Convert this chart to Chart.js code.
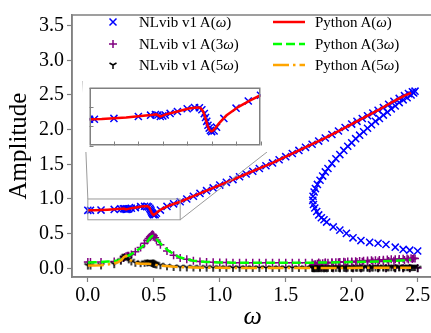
<!DOCTYPE html>
<html>
<head>
<meta charset="utf-8">
<script src="https://cdn.jsdelivr.net/npm/chart.js@4.4.1/dist/chart.umd.min.js"></script>
<style>
  body { margin: 0; overflow: hidden; background: #fff; }
  #wrap { position: relative; width: 440px; height: 333px; }
  #main { position: absolute; left: 0; top: 0; }
  #inset { position: absolute; left: 83px; top: 81px; background: #fff; }
  .leg { position: absolute; height: 20px; line-height: 20px; font-family: 'Liberation Serif', serif; font-size: 15px; color: #000; white-space: nowrap; }
  .leg svg { position: absolute; top: 0; }
</style>
</head>
<body>
<div id="wrap">
  <canvas id="main" width="440" height="333"></canvas>
  <canvas id="inset" width="184" height="71"></canvas>
  <div id="legend"></div>
</div>
<script>
// axis ticks
const xTicks = [0, 0.5, 1.0, 1.5, 2.0, 2.5];
const yTicks = [0, 0.5, 1.0, 1.5, 2.0, 2.5, 3.0, 3.5];
const insetXTicks = [0, 0.1, 0.2, 0.3, 0.4, 0.5, 0.6, 0.7];
const insetYTicks = [0.7, 0.8, 0.9, 1.0];
const zoomX = [0, 0.7];
const zoomY = [0.7, 1.0];

// NLvib v1 continuation (upper branch, fold, lower branch)
const omegaNL = [
  0.00, 0.02, 0.10, 0.20, 0.25, 0.27, 0.28, 0.29, 0.30, 0.31, 0.33, 0.36, 0.40, 0.43, 0.45, 0.46, 0.47, 0.475, 0.48, 0.485, 0.49, 0.495, 0.50, 0.51, 0.52, 0.55, 0.60, 0.65, 0.70,
  0.75, 0.80, 0.85, 0.90, 0.95, 1.00, 1.05, 1.10, 1.15, 1.20, 1.25, 1.30, 1.35, 1.40, 1.45, 1.50, 1.55, 1.60, 1.65, 1.70, 1.75, 1.80, 1.85, 1.90, 1.95, 2.00, 2.04, 2.08, 2.12, 2.16, 2.20, 2.24, 2.28, 2.32, 2.36, 2.40, 2.43, 2.46, 2.48,
  2.47, 2.45, 2.42, 2.39, 2.36, 2.33, 2.30, 2.27, 2.24, 2.21, 2.18, 2.15, 2.12, 2.09, 2.06, 2.03, 2.00, 1.97, 1.94, 1.91, 1.88, 1.85, 1.82, 1.80, 1.78, 1.76, 1.74, 1.725, 1.715, 1.707, 1.705,
  1.71, 1.72, 1.735, 1.75, 1.77, 1.79, 1.81, 1.86, 1.91, 1.96, 2.01, 2.07, 2.136, 2.20, 2.26, 2.33, 2.39, 2.44, 2.50
];
const ampNL1 = [
  0.836, 0.836, 0.840, 0.850, 0.857, 0.860, 0.858, 0.850, 0.853, 0.858, 0.866, 0.876, 0.890, 0.896, 0.895, 0.885, 0.865, 0.845, 0.825, 0.805, 0.790, 0.778, 0.772, 0.775, 0.795, 0.840, 0.893, 0.930, 0.960,
  1.00, 1.04, 1.08, 1.12, 1.16, 1.20, 1.24, 1.28, 1.32, 1.36, 1.40, 1.44, 1.48, 1.52, 1.565, 1.61, 1.655, 1.70, 1.745, 1.79, 1.835, 1.88, 1.93, 1.98, 2.03, 2.08, 2.12, 2.16, 2.20, 2.24, 2.28, 2.32, 2.365, 2.41, 2.45, 2.49, 2.52, 2.545, 2.555,
  2.53, 2.50, 2.46, 2.43, 2.39, 2.34, 2.30, 2.25, 2.21, 2.16, 2.12, 2.07, 2.02, 1.97, 1.92, 1.87, 1.81, 1.76, 1.70, 1.64, 1.58, 1.51, 1.44, 1.39, 1.33, 1.27, 1.21, 1.15, 1.10, 1.04, 0.98,
  0.92, 0.87, 0.82, 0.77, 0.73, 0.70, 0.667, 0.597, 0.551, 0.504, 0.44, 0.40, 0.375, 0.362, 0.343, 0.305, 0.273, 0.262, 0.25
];
const ampNL3 = [
  0.09, 0.09, 0.092, 0.10, 0.125, 0.15, 0.165, 0.175, 0.18, 0.18, 0.20, 0.24, 0.30, 0.36, 0.40, 0.43, 0.45, 0.46, 0.47, 0.48, 0.49, 0.48, 0.47, 0.44, 0.41, 0.34, 0.25, 0.19, 0.15,
  0.13, 0.11, 0.10, 0.09, 0.087, 0.085, 0.083, 0.082, 0.08, 0.08, 0.08, 0.08, 0.08, 0.08, 0.08, 0.08, 0.08, 0.08, 0.081, 0.082, 0.083, 0.084, 0.085, 0.087, 0.089, 0.09, 0.092, 0.094, 0.096, 0.098, 0.10, 0.103, 0.106, 0.11, 0.114, 0.12, 0.126, 0.133, 0.14,
  0.145, 0.145, 0.14, 0.138, 0.135, 0.132, 0.13, 0.127, 0.124, 0.121, 0.118, 0.115, 0.112, 0.109, 0.106, 0.103, 0.10, 0.097, 0.094, 0.091, 0.088, 0.085, 0.082, 0.079, 0.075, 0.071, 0.066, 0.06, 0.054, 0.048, 0.042,
  0.036, 0.031, 0.026, 0.022, 0.019, 0.016, 0.014, 0.011, 0.009, 0.008, 0.007, 0.006, 0.005, 0.005, 0.004, 0.004, 0.003, 0.003, 0.003
];
const ampNL5 = [
  0.04, 0.04, 0.042, 0.06, 0.11, 0.15, 0.17, 0.175, 0.16, 0.13, 0.10, 0.08, 0.075, 0.08, 0.085, 0.09, 0.09, 0.09, 0.085, 0.08, 0.075, 0.07, 0.065, 0.06, 0.055, 0.045, 0.03, 0.02, 0.015,
  0.013, 0.012, 0.011, 0.01, 0.009, 0.008, 0.008, 0.007, 0.007, 0.007, 0.006, 0.006, 0.006, 0.006, 0.006, 0.006, 0.006, 0.006, 0.006, 0.007, 0.007, 0.007, 0.008, 0.008, 0.008, 0.009, 0.009, 0.01, 0.01, 0.011, 0.011, 0.012, 0.013, 0.014, 0.015, 0.016, 0.017, 0.018, 0.019,
  0.019, 0.018, 0.017, 0.017, 0.016, 0.016, 0.015, 0.015, 0.014, 0.014, 0.013, 0.013, 0.012, 0.012, 0.011, 0.011, 0.01, 0.01, 0.009, 0.009, 0.008, 0.008, 0.007, 0.007, 0.006, 0.006, 0.005, 0.005, 0.004, 0.004, 0.003,
  0.003, 0.002, 0.002, 0.002, 0.002, 0.001, 0.001, 0.001, 0.001, 0.001, 0.001, 0.001, 0.001, 0.001, 0.001, 0.001, 0.001, 0.001, 0.001
];

// Python solver (upper branch only)
const omegaPy = [0, 0.05, 0.10, 0.15, 0.20, 0.23, 0.255, 0.274, 0.29, 0.312, 0.356, 0.407, 0.43, 0.445, 0.455, 0.464, 0.47, 0.477, 0.484, 0.49, 0.495, 0.499, 0.505, 0.515, 0.53, 0.56, 0.61, 0.66, 0.70,
  0.8, 0.9, 1.0, 1.1, 1.2, 1.3, 1.4, 1.5, 1.6, 1.7, 1.8, 1.9, 2.0, 2.1, 2.2, 2.3, 2.4, 2.45];
const ampPy1 = [0.836, 0.837, 0.841, 0.845, 0.851, 0.855, 0.858, 0.861, 0.849, 0.861, 0.875, 0.891, 0.895, 0.897, 0.893, 0.879, 0.86, 0.830, 0.80, 0.783, 0.776, 0.773, 0.777, 0.790, 0.815, 0.855, 0.90, 0.935, 0.96,
  1.04, 1.12, 1.20, 1.28, 1.36, 1.44, 1.52, 1.61, 1.70, 1.79, 1.88, 1.98, 2.08, 2.18, 2.28, 2.39, 2.49, 2.53];
const ampPy3 = [0.085, 0.087, 0.09, 0.097, 0.105, 0.115, 0.13, 0.16, 0.175, 0.185, 0.235, 0.305, 0.34, 0.37, 0.395, 0.42, 0.435, 0.45, 0.46, 0.465, 0.465, 0.46, 0.45, 0.435, 0.40, 0.34, 0.255, 0.195, 0.155,
  0.11, 0.092, 0.085, 0.082, 0.08, 0.08, 0.08, 0.08, 0.08, 0.082, 0.084, 0.087, 0.09, 0.094, 0.098, 0.105, 0.115, 0.125];
const ampPy5 = [0.04, 0.042, 0.045, 0.055, 0.07, 0.09, 0.12, 0.165, 0.18, 0.13, 0.075, 0.065, 0.065, 0.066, 0.066, 0.065, 0.064, 0.063, 0.062, 0.06, 0.058, 0.056, 0.053, 0.05, 0.045, 0.038, 0.03, 0.022, 0.018,
  0.012, 0.009, 0.007, 0.006, 0.005, 0.005, 0.005, 0.005, 0.005, 0.005, 0.006, 0.006, 0.006, 0.007, 0.007, 0.008, 0.008, 0.009];

const FONT = "'Liberation Serif', 'Times New Roman', serif";
const FRAME = '#808080';

function pts(xs, ys) {
  return xs.map((x, i) => ({ x: x, y: ys[i] }));
}

// matplotlib "1" marker (tri_down), drawn once into a small canvas
function triDown(color, r) {
  const c = document.createElement('canvas');
  c.width = c.height = 2 * r + 4;
  const g = c.getContext('2d');
  const m = r + 2;
  g.strokeStyle = color;
  g.lineWidth = 1.5;
  g.beginPath();
  g.moveTo(m, m); g.lineTo(m, m + r);
  g.moveTo(m, m); g.lineTo(m - r * 0.866, m - r * 0.5);
  g.moveTo(m, m); g.lineTo(m + r * 0.866, m - r * 0.5);
  g.stroke();
  return c;
}
const triMarker = triDown('#000000', 4);

function makeDatasets() {
  return [
    { label: 'NLvib v1 A(ω)', data: pts(omegaNL, ampNL1), showLine: false, pointStyle: 'crossRot', pointRadius: 5,
      pointBorderColor: '#0000ff', pointBackgroundColor: '#0000ff', pointBorderWidth: 1.5, order: 6 },
    { label: 'NLvib v1 A(3ω)', data: pts(omegaNL, ampNL3), showLine: false, pointStyle: 'cross', pointRadius: 4,
      pointBorderColor: '#800080', pointBackgroundColor: '#800080', pointBorderWidth: 1.5, order: 5 },
    { label: 'NLvib v1 A(5ω)', data: pts(omegaNL, ampNL5), showLine: false, pointStyle: triMarker, pointRadius: 4,
      pointBorderColor: '#000', order: 4 },
    { label: 'Python A(ω)', data: pts(omegaPy, ampPy1), showLine: true, pointRadius: 0, borderColor: '#ff0000',
      borderWidth: 2.5, tension: 0, order: 3 },
    { label: 'Python A(3ω)', data: pts(omegaPy, ampPy3), showLine: true, pointRadius: 0, borderColor: '#00ff00',
      borderWidth: 2.5, borderDash: [9, 4], tension: 0, order: 2 },
    { label: 'Python A(5ω)', data: pts(omegaPy, ampPy5), showLine: true, pointRadius: 0, borderColor: '#ffa500',
      borderWidth: 2.5, borderDash: [16, 4, 2.5, 4], tension: 0, order: 1 }
  ];
}

const insetEl = document.getElementById('inset');

const mainFrame = {
  id: 'mainFrame',
  afterDraw(chart) {
    const { ctx, chartArea: a, scales: { x, y } } = chart;
    ctx.save();
    ctx.strokeStyle = FRAME;
    ctx.lineWidth = 1.5;
    ctx.strokeRect(a.left, a.top, a.right - a.left, a.bottom - a.top);
    // zoomed region box and the two connectors to the inset
    const bx0 = x.getPixelForValue(zoomX[0]), bx1 = x.getPixelForValue(zoomX[1]);
    const by0 = y.getPixelForValue(zoomY[0]), by1 = y.getPixelForValue(zoomY[1]);
    const il = insetEl.offsetLeft, it = insetEl.offsetTop;
    const ir = il + insetEl.width, ib = it + insetEl.height;
    ctx.strokeStyle = '#9a9a9a';
    ctx.lineWidth = 1;
    ctx.strokeRect(bx0, by1, bx1 - bx0, by0 - by1);
    ctx.beginPath();
    ctx.moveTo(il, it); ctx.lineTo(bx0, by1);
    ctx.moveTo(ir, ib); ctx.lineTo(bx1, by0);
    ctx.stroke();
    ctx.restore();
  }
};

const insetFrame = {
  id: 'insetFrame',
  afterDraw(chart) {
    const { ctx, chartArea: a, scales: { x, y } } = chart;
    ctx.save();
    ctx.strokeStyle = FRAME;
    ctx.lineWidth = 1.5;
    ctx.strokeRect(a.left + 0.75, a.top + 0.75, a.right - a.left - 1.5, a.bottom - a.top - 1.5);
    ctx.lineWidth = 1;
    ctx.beginPath();
    insetXTicks.forEach(v => {
      const px = Math.round(x.getPixelForValue(v)) + 0.5;
      ctx.moveTo(px, a.bottom); ctx.lineTo(px, a.bottom - 4);
    });
    insetYTicks.forEach(v => {
      const py = Math.round(y.getPixelForValue(v)) + 0.5;
      ctx.moveTo(a.left, py); ctx.lineTo(a.left + 4, py);
    });
    ctx.stroke();
    ctx.restore();
  }
};

new Chart(document.getElementById('main'), {
  type: 'scatter',
  data: { datasets: makeDatasets() },
  options: {
    responsive: false,
    animation: false,
    devicePixelRatio: 1,
    layout: { padding: { left: 0, top: 5, right: 6, bottom: 0 } },
    plugins: { legend: { display: false }, tooltip: { enabled: false } },
    scales: {
      x: {
        type: 'linear', min: -0.12, max: 2.62,
        afterBuildTicks: s => { s.ticks = xTicks.map(v => ({ value: v })); },
        afterFit: s => { s.height = 56; },
        ticks: { callback: v => v.toFixed(1), font: { family: FONT, size: 20 }, color: '#000', padding: 2, maxRotation: 0, autoSkip: false },
        grid: { drawOnChartArea: false, tickLength: 5, color: FRAME, tickWidth: 1.2 },
        border: { color: FRAME, width: 1.5 },
        title: { display: true, text: 'ω', font: { family: FONT, size: 26, style: 'italic' }, color: '#000', padding: { top: 0, bottom: 0 } }
      },
      y: {
        type: 'linear', min: -0.125, max: 3.653,
        afterBuildTicks: s => { s.ticks = yTicks.map(v => ({ value: v })); },
        afterFit: s => { s.width = 72; },
        ticks: { callback: v => v.toFixed(1), font: { family: FONT, size: 20 }, color: '#000', padding: 3, autoSkip: false },
        grid: { drawOnChartArea: false, tickLength: 5, color: FRAME, tickWidth: 1.2 },
        border: { color: FRAME, width: 1.5 },
        title: { display: true, text: 'Amplitude', font: { family: FONT, size: 25 }, color: '#000', padding: { top: 4, bottom: 0 } }
      }
    }
  },
  plugins: [mainFrame]
});

new Chart(insetEl, {
  type: 'scatter',
  data: { datasets: makeDatasets() },
  options: {
    responsive: false,
    animation: false,
    devicePixelRatio: 1,
    layout: { padding: 0 },
    plugins: { legend: { display: false }, tooltip: { enabled: false } },
    scales: {
      x: { type: 'linear', min: zoomX[0], max: zoomX[1], display: false },
      y: { type: 'linear', min: zoomY[0], max: zoomY[1], display: false }
    }
  },
  plugins: [insetFrame]
});

// legend, two columns like matplotlib ncol=2
const legendItems = [
  { col: 0, row: 0, text: 'NLvib v1 A(<i>ω</i>)', svg: '<path d="M-3.5,-3.5L3.5,3.5M-3.5,3.5L3.5,-3.5" stroke="#0000ff" stroke-width="1.5"/>' },
  { col: 0, row: 1, text: 'NLvib v1 A(3<i>ω</i>)', svg: '<path d="M-4,0L4,0M0,-4L0,4" stroke="#800080" stroke-width="1.5"/>' },
  { col: 0, row: 2, text: 'NLvib v1 A(5<i>ω</i>)', svg: '<path d="M0,0L0,4M0,0L-3.5,-2M0,0L3.5,-2" stroke="#000" stroke-width="1.5"/>' },
  { col: 1, row: 0, text: 'Python A(<i>ω</i>)', svg: '<path d="M-16,0L16,0" stroke="#ff0000" stroke-width="2.5"/>' },
  { col: 1, row: 1, text: 'Python A(3<i>ω</i>)', svg: '<path d="M-16,0L16,0" stroke="#00ff00" stroke-width="2.5" stroke-dasharray="9 4"/>' },
  { col: 1, row: 2, text: 'Python A(5<i>ω</i>)', svg: '<path d="M-16,0L16,0" stroke="#ffa500" stroke-width="2.5" stroke-dasharray="16 4 2.5 4"/>' }
];
const legendEl = document.getElementById('legend');
legendItems.forEach(it => {
  const d = document.createElement('div');
  d.className = 'leg';
  const cx = it.col === 0 ? 113 : 289;
  const tx = it.col === 0 ? 139 : 315;
  d.style.left = (cx - 18) + 'px';
  d.style.top = (12 + it.row * 21.7) + 'px';
  d.innerHTML = '<svg width="36" height="20" viewBox="-18 -10 36 20">' + it.svg + '</svg>' +
    '<span style="position:absolute;left:' + (tx - cx + 18) + 'px">' + it.text + '</span>';
  legendEl.appendChild(d);
});
</script>
</body>
</html>
